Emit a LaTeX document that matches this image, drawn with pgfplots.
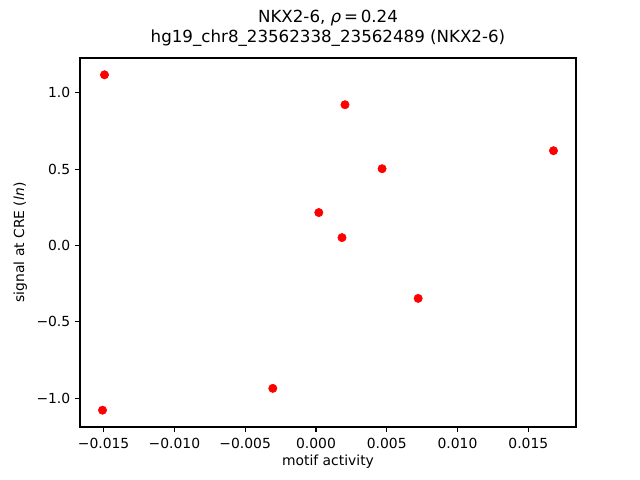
\documentclass[border=0pt]{standalone}
\usepackage{pgfplots}
\pgfplotsset{compat=1.18}
\usepackage{fontspec}
\setmainfont{DejaVu Sans}
\begin{document}
\begin{tikzpicture}
\useasboundingbox (-57.6pt,-38.16pt) rectangle (403.2pt,307.44pt);
\begin{axis}[
  at={(0,0)}, anchor=south west,
  scale only axis,
  width=357.12pt, height=265.68pt,
  xmin=-0.01667, xmax=0.01837,
  ymin=-1.188, ymax=1.228,
  xtick={-0.015,-0.01,-0.005,0,0.005,0.01,0.015},
  xticklabels={−0.015,−0.010,−0.005,0.000,0.005,0.010,0.015},
  ytick={-1,-0.5,0,0.5,1},
  yticklabels={−1.0,−0.5,0.0,0.5,1.0},
  scaled x ticks=false,
  tick align=outside,
  tick pos=left,
  major tick length=3.5pt,
  every tick/.style={black, line width=0.8pt},
  axis line style={line width=0.8pt},
  ticklabel style={font=\fontsize{10}{12}\selectfont},
  xticklabel style={yshift=-1pt},
  xlabel={motif activity},
  ylabel={signal at CRE (\textit{ln})},
  label style={font=\fontsize{10}{12}\selectfont},
  xlabel style={yshift=2pt},
  ylabel style={yshift=0pt},
  clip=false,
]
\addplot[only marks, mark=*, mark size=3pt, color=red, mark options={fill=red, draw=red}] coordinates {
(-0.01494,1.118)
(0.00205,0.922)
(0.01678,0.621)
(0.00467,0.503)
(0.0002,0.216)
(0.00184,0.052)
(0.00722,-0.346)
(-0.00305,-0.935)
(-0.01508,-1.078)
};
\node[anchor=south, align=center, font=\fontsize{12}{14.4}\selectfont] at (rel axis cs:0.5,1) [yshift=4.5pt] {NKX2-6, \textit{ρ}\,=\,0.24\\hg19\_chr8\_23562338\_23562489 (NKX2-6)};
\end{axis}
\end{tikzpicture}
\end{document}
